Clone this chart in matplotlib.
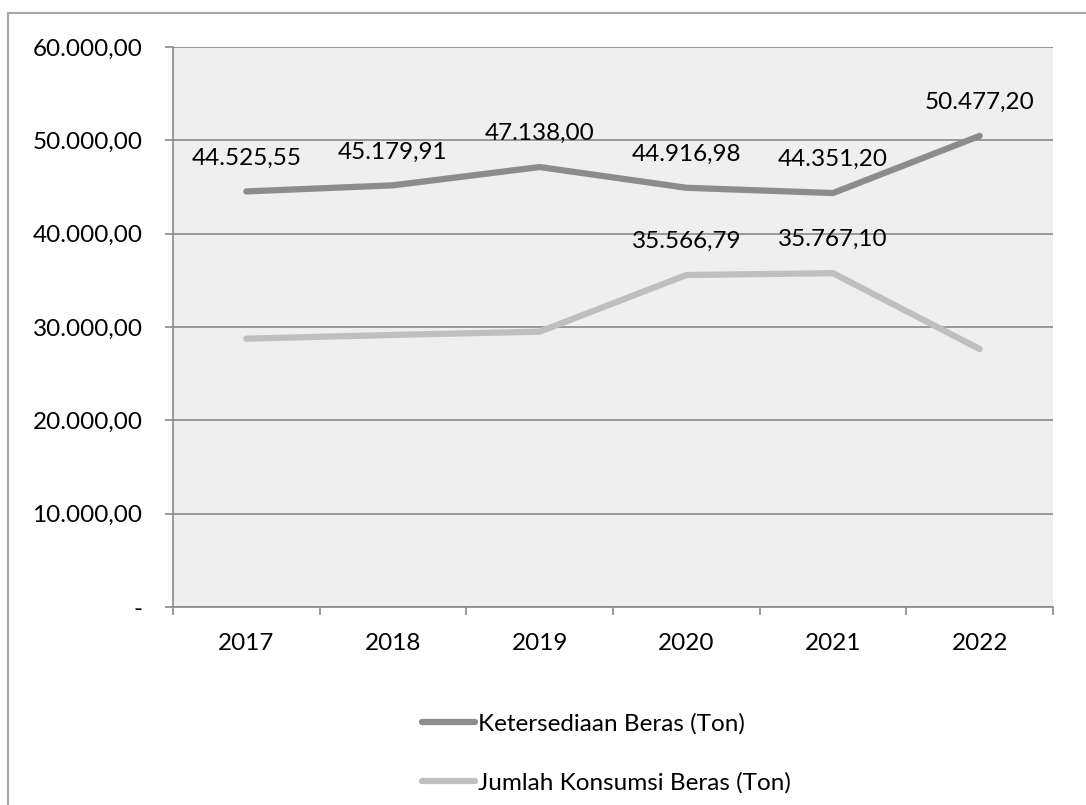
import matplotlib.pyplot as plt
from matplotlib.lines import Line2D

years = ['2017', '2018', '2019', '2020', '2021', '2022']
ketersediaan = [44525.55, 45179.91, 47138.00, 44916.98, 44351.20, 50477.20]
konsumsi = [28750.0, 29150.0, 29500.0, 35566.79, 35767.10, 27640.0]
konsumsi_labelled = [False, False, False, True, True, False]
y_ticks = [0, 10000, 20000, 30000, 40000, 50000, 60000]


def fmt_id(v):
    # Indonesian number format: 44.525,55
    s = f"{v:,.2f}"
    return s.replace(',', 'X').replace('.', ',').replace('X', '.')


plt.rcParams['font.family'] = ['Lato', 'DejaVu Sans']
FS = 17.5

W, H = 1086, 805
fig = plt.figure(figsize=(W / 100, H / 100), dpi=100)

# outer chart border (left and top edges visible)
fig.add_artist(Line2D([8 / W, 8 / W], [0, 1 - 13 / H], color='#a6a6a6', lw=1.5))
fig.add_artist(Line2D([8 / W, 1], [1 - 13 / H, 1 - 13 / H], color='#a6a6a6', lw=1.5))

ax = fig.add_axes([173 / W, 1 - 607 / H, 880 / W, 560 / H])
ax.set_facecolor('#efefef')

x = list(range(len(years)))
ax.plot(x, ketersediaan, color='#8c8c8c', lw=4.5, solid_capstyle='round',
        label='Ketersediaan Beras (Ton)', zorder=3)
ax.plot(x, konsumsi, color='#bfbfbf', lw=4.5, solid_capstyle='round',
        label='Jumlah Konsumsi Beras (Ton)', zorder=3)

for i, v in enumerate(ketersediaan):
    ax.annotate(fmt_id(v), (i, v), xytext=(0, 24), textcoords='offset points',
                ha='center', va='center', fontsize=FS, color='black')
for i, v in enumerate(konsumsi):
    if konsumsi_labelled[i]:
        ax.annotate(fmt_id(v), (i, v), xytext=(0, 24), textcoords='offset points',
                    ha='center', va='center', fontsize=FS, color='black')

ax.set_xlim(-0.5, len(years) - 0.5)
ax.set_ylim(0, 60000)
ax.set_yticks(y_ticks)
ax.set_yticklabels(['-'] + [fmt_id(v) for v in y_ticks[1:]])
ax.set_xticks(x)
ax.set_xticklabels(years)
ax.set_xticks([i - 0.5 for i in range(len(years) + 1)], minor=True)

ax.grid(axis='y', color='#8a8a8a', lw=1.2, zorder=1)
ax.tick_params(axis='y', length=6, width=1.2, color='#8a8a8a', labelsize=FS, pad=16)
ax.tick_params(axis='x', which='major', length=0, labelsize=FS, pad=19)
ax.tick_params(axis='x', which='minor', length=6, width=1.2, color='#8a8a8a')

for side in ['top', 'right']:
    ax.spines[side].set_visible(False)
for side in ['left', 'bottom']:
    ax.spines[side].set_color('#8a8a8a')
    ax.spines[side].set_linewidth(1.2)

fig.legend(loc='upper left', bbox_to_anchor=(400 / W, 1 - 691 / H), frameon=False,
           fontsize=FS, handlelength=2.2, handletextpad=0.1, labelspacing=1.55)

fig.savefig('out.png', dpi=100)
